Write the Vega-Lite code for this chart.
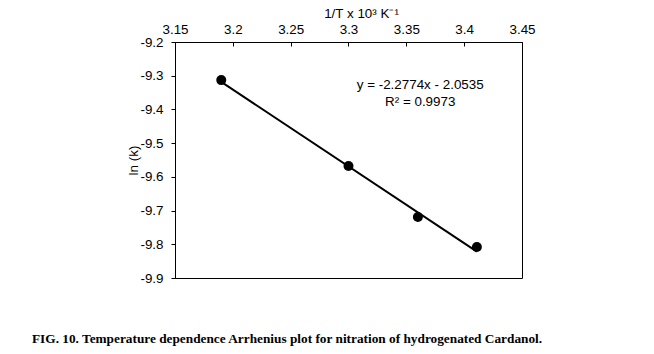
{
  "$schema": "https://vega.github.io/schema/vega-lite/v6.json",
  "width": 347,
  "height": 236,
  "autosize": {"type": "none"},
  "padding": {"left": 175, "top": 42, "right": 132, "bottom": 76},
  "background": "white",
  "title": {
    "text": "FIG. 10. Temperature dependence Arrhenius plot for nitration of hydrogenated Cardanol.",
    "orient": "bottom",
    "anchor": "start",
    "frame": "group",
    "dx": -143,
    "offset": 48,
    "font": "Liberation Serif",
    "fontSize": 13.3,
    "fontWeight": "bold",
    "color": "black"
  },
  "config": {
    "view": {"stroke": "black", "strokeWidth": 1},
    "axis": {
      "grid": false,
      "domainColor": "black",
      "tickColor": "black",
      "labelColor": "black",
      "titleColor": "black",
      "labelFont": "Liberation Sans",
      "titleFont": "Liberation Sans",
      "labelFontSize": 13.4,
      "titleFontSize": 13.4,
      "titleFontWeight": "normal"
    }
  },
  "datasets": {
    "pts": [
      {"invT": 3.19, "lnk": -9.313},
      {"invT": 3.300, "lnk": -9.568},
      {"invT": 3.36, "lnk": -9.719},
      {"invT": 3.411, "lnk": -9.808}
    ],
    "fit": [
      {"invT": 3.19, "lnk": -9.3184},
      {"invT": 3.411, "lnk": -9.8218}
    ],
    "eq": [
      {"invT": 3.362, "lnk": -9.328, "label": "y = -2.2774x - 2.0535"},
      {"invT": 3.362, "lnk": -9.379, "label": "R² = 0.9973"}
    ]
  },
  "layer": [
    {
      "data": {"name": "fit"},
      "mark": {"type": "line", "color": "black", "strokeWidth": 2},
      "encoding": {
        "x": {
          "field": "invT", "type": "quantitative",
          "scale": {"domain": [3.15, 3.45], "nice": false, "zero": false},
          "axis": {
            "orient": "top",
            "values": [3.15, 3.2, 3.25, 3.3, 3.35, 3.4, 3.45],
            "tickCount": 10,
            "format": ".2~f",
            "tickSize": -4,
            "labelPadding": 10,
            "labelOverlap": false,
            "labelFlush": false,
            "title": "1/T x 10³ K⁻¹",
            "titleX": 186,
            "titleY": -22,
            "titleAnchor": "middle",
            "titleBaseline": "bottom"
          }
        },
        "y": {
          "field": "lnk", "type": "quantitative",
          "scale": {"domain": [-9.9, -9.2], "nice": false, "zero": false},
          "axis": {
            "values": [-9.2, -9.3, -9.4, -9.5, -9.6, -9.7, -9.8, -9.9],
            "tickCount": 10,
            "labelExpr": "replace(format(datum.value, '.1f'), '\u2212', '-')",
            "labelOverlap": false,
            "labelFlush": false,
            "tickSize": 4,
            "labelPadding": 8,
            "title": "ln (k)",
            "titleX": -35,
            "titleY": 118,
            "titleAngle": -90,
            "titleAlign": "center",
            "titleBaseline": "bottom"
          }
        }
      }
    },
    {
      "data": {"name": "pts"},
      "mark": {"type": "point", "filled": true, "color": "black", "opacity": 1, "size": 100},
      "encoding": {
        "x": {"field": "invT", "type": "quantitative"},
        "y": {"field": "lnk", "type": "quantitative"}
      }
    },
    {
      "data": {"name": "eq"},
      "mark": {"type": "text", "font": "Liberation Sans", "fontSize": 13.4, "color": "black", "align": "center", "baseline": "middle"},
      "encoding": {
        "x": {"field": "invT", "type": "quantitative"},
        "y": {"field": "lnk", "type": "quantitative"},
        "text": {"field": "label"}
      }
    }
  ]
}
